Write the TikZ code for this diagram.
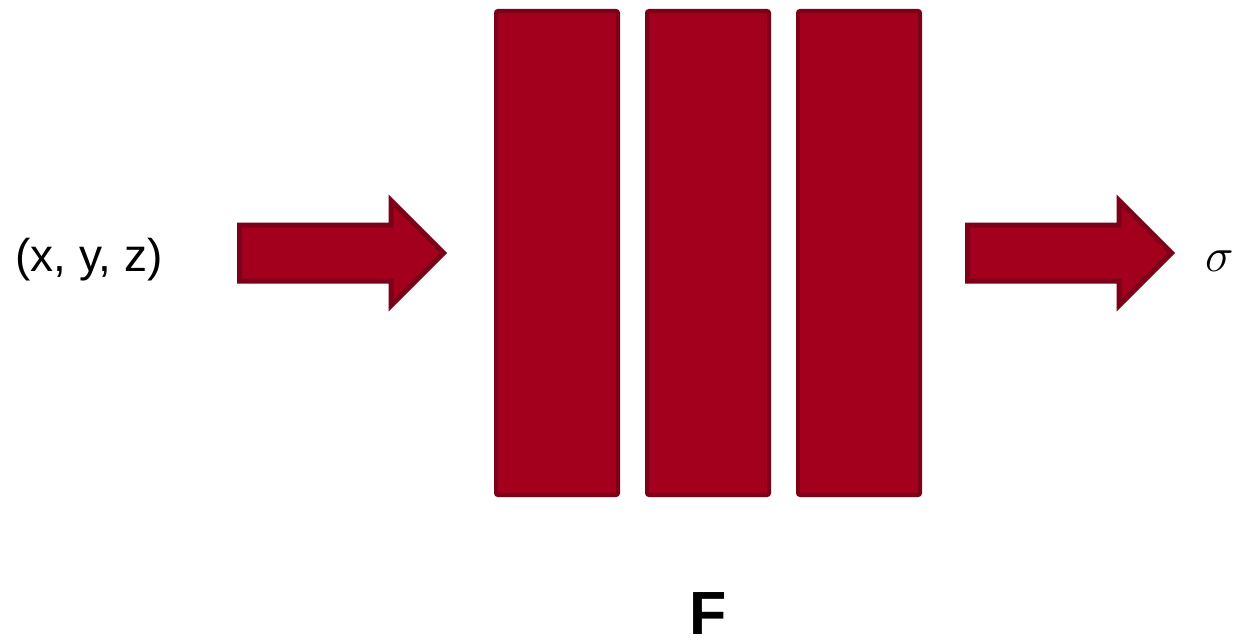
\documentclass[tikz,border=0pt]{standalone}
\usepackage{fix-cm}
\usepackage{fontspec}
\setmainfont{Liberation Sans}
\usetikzlibrary{shapes.arrows}
\definecolor{blockred}{RGB}{163,0,30}
\definecolor{blockedge}{RGB}{125,0,25}
\begin{document}
\begin{tikzpicture}[x=1pt,y=1pt,
  layer/.style={draw=blockedge, fill=blockred, line width=4pt, rounded corners=2pt,
    minimum width=122pt, minimum height=484pt, inner sep=0pt},
  bigarrow/.style={single arrow, draw=blockedge, fill=blockred, line width=5pt,
    minimum height=204pt, single arrow head extend=24.5pt, single arrow tip angle=90,
    inner xsep=0pt, inner ysep=25.5pt, text height=0pt, text depth=0pt, text width=0pt,
    outer sep=0pt, anchor=tail},
  lbl/.style={anchor=base, inner sep=0pt, font=\fontsize{46}{52}\selectfont}]
  \useasboundingbox (0,0) rectangle (1233,641);
  \node[layer] (l1) at (557,388) {};
  \node[layer] (l2) at (708,388) {};
  \node[layer] (l3) at (859,388) {};
  \node[bigarrow] (a1) at (239.5,388) {};
  \node[bigarrow] (a2) at (967.5,388) {};
  \node[lbl] (in) at (89,370) {(x, y, z)};
  \node[anchor=base, inner sep=0pt, font=\fontsize{48}{52}\selectfont] (out) at (1220,370) {$\sigma$};
  \node[anchor=base, inner sep=0pt, font=\fontsize{61}{70}\selectfont\bfseries] (F) at (708,7) {F};
\end{tikzpicture}
\end{document}
